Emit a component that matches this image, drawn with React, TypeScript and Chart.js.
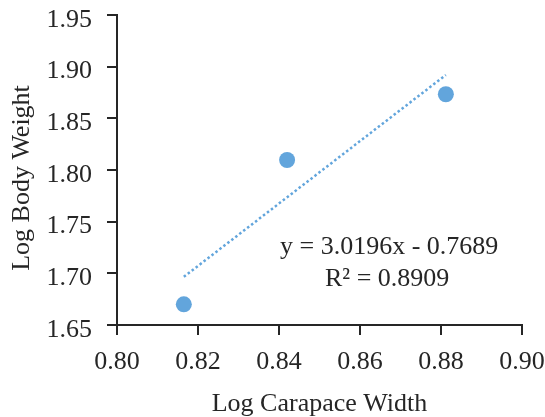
import React, { useEffect, useRef } from "react";
import { Chart, registerables } from "chart.js";

Chart.register(...registerables);

const widthX = [0.8165, 0.842, 0.8812];
const weightY = [1.670, 1.8097, 1.8733];
const trendX = [0.8165, 0.8812];
const trendY = [1.6966, 1.892];
const xTicks = [0.8, 0.82, 0.84, 0.86, 0.88, 0.9];
const yTicks = [1.65, 1.7, 1.75, 1.8, 1.85, 1.9, 1.95];
const equationLines = ["y = 3.0196x - 0.7689", "R\u00B2 = 0.8909"];
const yTitle = "Log Body Weight";
const xTitle = "Log Carapace Width";

const FONT = "'Liberation Serif', 'Times New Roman', serif";
const INK = "#262626";
const BLUE = "#62A5DC";

const annotationPlugin = {
  id: "equation",
  afterDatasetsDraw(chart: any) {
    const { ctx, chartArea } = chart;
    const xs = chart.scales.x;
    const ys = chart.scales.y;
    ctx.save();
    ctx.font = `26px ${FONT}`;
    ctx.fillStyle = INK;
    ctx.textAlign = "center";
    ctx.textBaseline = "alphabetic";
    const cx = xs.getPixelForValue(0.8672);
    ctx.fillText(equationLines[0], cx, ys.getPixelForValue(1.7185));
    ctx.fillText(equationLines[1], cx - 2, ys.getPixelForValue(1.6875));
    // y-axis title
    ctx.translate(29, (chartArea.top + chartArea.bottom) / 2 + 8);
    ctx.rotate(-Math.PI / 2);
    ctx.fillText(yTitle, 0, 0);
    ctx.restore();
  },
};

export default function App() {
  const ref = useRef<HTMLCanvasElement | null>(null);
  useEffect(() => {
    if (!ref.current) return;
    const chart = new Chart(ref.current, {
      type: "scatter",
      data: {
        datasets: [
          {
            label: "points",
            data: widthX.map((x, i) => ({ x, y: weightY[i] })),
            backgroundColor: BLUE,
            borderColor: BLUE,
            pointRadius: 8,
            pointBorderWidth: 0,
            order: 0,
          },
          {
            label: "trend",
            data: trendX.map((x, i) => ({ x, y: trendY[i] })),
            showLine: true,
            borderColor: BLUE,
            borderWidth: 2.5,
            borderDash: [2.5, 2.5],
            pointRadius: 0,
            order: 1,
          },
        ],
      },
      options: {
        animation: false,
        responsive: false,
        maintainAspectRatio: false,
        layout: { padding: { top: 15, right: 23, left: 0, bottom: 0 } },
        plugins: { legend: { display: false }, tooltip: { enabled: false } },
        scales: {
          x: {
            type: "linear",
            min: 0.8,
            max: 0.9,
            afterBuildTicks: (s: any) => {
              s.ticks = xTicks.map((v) => ({ value: v }));
            },
            ticks: {
              callback: (v: any) => Number(v).toFixed(2),
              font: { family: FONT, size: 26 },
              color: INK,
              padding: 12,
              maxRotation: 0,
              autoSkip: false,
            },
            grid: {
              drawOnChartArea: false,
              drawTicks: true,
              tickLength: 10,
              color: INK,
              lineWidth: 2,
            },
            border: { color: INK, width: 2 },
            title: {
              display: true,
              text: xTitle,
              font: { family: FONT, size: 26 },
              color: INK,
              padding: { top: 0, bottom: -3 },
            },
            afterFit: (s: any) => {
              s.height = 92;
              s.paddingLeft = 0;
              s.paddingRight = 0;
            },
          },
          y: {
            type: "linear",
            min: 1.65,
            max: 1.95,
            afterBuildTicks: (s: any) => {
              s.ticks = yTicks.map((v) => ({ value: v }));
            },
            ticks: {
              callback: (v: any) => Number(v).toFixed(2),
              font: { family: FONT, size: 26 },
              color: INK,
              padding: 15,
              labelOffset: 5,
              autoSkip: false,
            },
            grid: {
              drawOnChartArea: false,
              drawTicks: true,
              tickLength: 10,
              color: INK,
              lineWidth: 2,
            },
            border: { color: INK, width: 2 },
            title: { display: false },
            afterFit: (s: any) => {
              s.width = 117;
              s.paddingTop = 0;
              s.paddingBottom = 0;
            },
          },
        },
      },
      plugins: [annotationPlugin],
    } as any);
    return () => chart.destroy();
  }, []);
  return (
    <div style={{ position: "absolute", left: 0, top: 0, width: 545, height: 417 }}>
      <canvas ref={ref} width={545} height={417} style={{ width: 545, height: 417 }} />
    </div>
  );
}
